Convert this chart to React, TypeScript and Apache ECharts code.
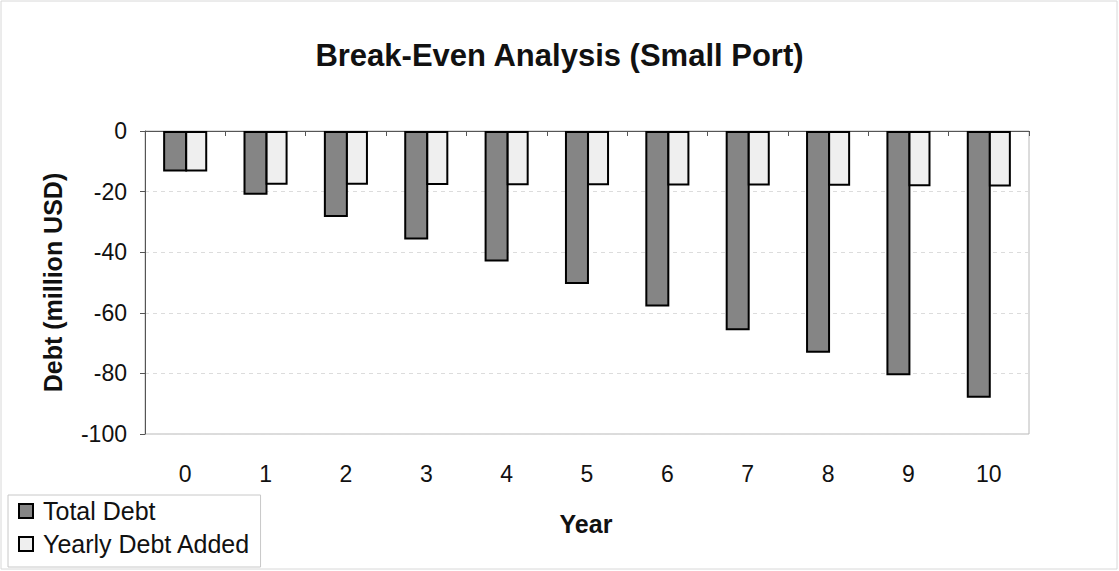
import React, { useEffect, useRef } from "react";
import * as echarts from "echarts";

const years = ["0", "1", "2", "3", "4", "5", "6", "7", "8", "9", "10"];
const totalDebt = [-13.4, -21.0, -28.4, -35.8, -43.1, -50.5, -57.9, -65.8, -73.2, -80.6, -88.0];
const yearlyDebtAdded = [-13.4, -17.7, -17.7, -17.8, -17.9, -17.9, -18.0, -18.0, -18.1, -18.2, -18.3];
const yTicks = { min: -100, max: 0, interval: 20 };

const FONT = "'Liberation Sans', Arial, sans-serif";
const TXT = "#111";

export default function App() {
  const ref = useRef<HTMLDivElement>(null);
  useEffect(() => {
    document.body.style.margin = "0";
    const chart = echarts.init(ref.current!, null, { renderer: "svg" });
    chart.setOption({
      animation: false,
      backgroundColor: "#fff",
      textStyle: { fontFamily: FONT, color: TXT },
      title: {
        text: "Break-Even Analysis (Small Port)",
        left: "center",
        top: 35,
        textStyle: { fontFamily: FONT, fontSize: 31, fontWeight: "bold", color: TXT },
      },
      grid: {
        left: 145,
        right: 90,
        top: 131,
        bottom: 137,
        show: true,
        borderColor: "#b8b8b8",
        borderWidth: 1,
        backgroundColor: "transparent",
      },
      legend: {
        orient: "vertical",
        left: 8,
        top: 495,
        padding: [2, 10, 9, 10],
        itemGap: 5,
        itemWidth: 14,
        itemHeight: 14,
        borderColor: "#c8c8c8",
        borderWidth: 1,
        icon: "rect",
        textStyle: { fontFamily: FONT, fontSize: 25, lineHeight: 28, color: TXT, padding: [0, 0, 0, 5] },
        data: ["Total Debt", "Yearly Debt Added"],
      },
      xAxis: [
        {
          type: "category",
          data: years,
          position: "bottom",
          axisLine: { show: false },
          axisTick: { show: false },
          axisLabel: { fontFamily: FONT, fontSize: 23, color: TXT, margin: 28 },
        },
        {
          type: "category",
          data: years,
          position: "top",
          axisLine: { show: true, lineStyle: { color: "#555", width: 1 } },
          axisTick: { show: true, inside: true, length: 5, lineStyle: { color: "#555" } },
          axisLabel: { show: false },
        },
      ],
      yAxis: {
        type: "value",
        min: yTicks.min,
        max: yTicks.max,
        interval: yTicks.interval,
        axisLine: { show: true, lineStyle: { color: "#555" } },
        axisTick: { show: true, length: 5, lineStyle: { color: "#555" } },
        axisLabel: { fontFamily: FONT, fontSize: 23, color: TXT, margin: 18 },
        splitLine: { show: true, lineStyle: { color: "#dcdcdc", type: [4, 4] } },
        name: "Debt (million USD)",
        nameLocation: "middle",
        nameGap: 80,
        nameTextStyle: { fontFamily: FONT, fontSize: 25, fontWeight: "bold", color: TXT },
      },
      series: [
        {
          name: "Total Debt",
          type: "bar",
          xAxisIndex: 0,
          data: totalDebt,
          barWidth: 24,
          barGap: "-8%",
          itemStyle: { color: "#858585", borderColor: "#000", borderWidth: 2 },
        },
        {
          name: "Yearly Debt Added",
          type: "bar",
          xAxisIndex: 0,
          data: yearlyDebtAdded,
          barWidth: 22,
          itemStyle: { color: "#efefef", borderColor: "#000", borderWidth: 2 },
        },
      ],
      graphic: [
        {
          type: "text",
          x: 586,
          y: 524,
          style: {
            text: "Year",
            font: `bold 25px ${FONT}`,
            fill: TXT,
            textAlign: "center",
            textVerticalAlign: "middle",
          },
        },
        {
          type: "rect",
          shape: { x: 1, y: 1, width: 1116, height: 568 },
          style: { fill: "none", stroke: "#d8d8d8", lineWidth: 1 },
          silent: true,
        },
      ],
    });
    return () => chart.dispose();
  }, []);
  return <div ref={ref} style={{ width: 1119, height: 571, position: "absolute", left: 0, top: 0 }} />;
}
